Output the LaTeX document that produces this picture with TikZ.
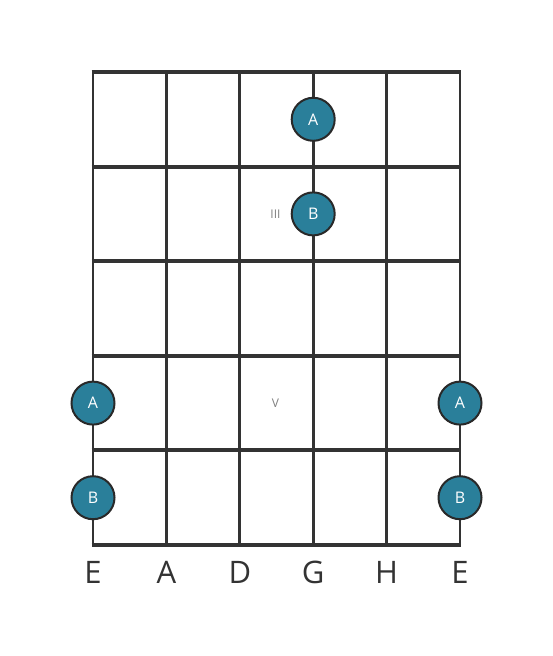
\documentclass[tikz,border=0pt]{standalone}
\usepackage{fontspec}
\setmainfont{Open Sans}
\definecolor{fretline}{HTML}{333333}
\definecolor{notefill}{HTML}{2A7F9A}
\tikzset{
  stringline/.style={fretline,line width=2.8pt},
  fretbar/.style={fretline,line width=4pt},
  note/.style={circle,draw=fretline!80!black,line width=2pt,fill=notefill,
    minimum size=43pt,inner sep=0pt,text=white,font=\fontsize{16}{16}\selectfont},
  stringname/.style={text=fretline,font=\fontsize{31}{31}\selectfont},
  fretmark/.style={text=gray,font=\fontsize{12}{12}\selectfont}
}
\begin{document}
\begin{tikzpicture}[x=1pt,y=-1pt]
    \useasboundingbox (0,0) rectangle (553,656);
    % strings
    \foreach \name [count=\i] in {E,A,D,G,H,E} {
      \coordinate (t\i) at ({93+73.4*(\i-1)},72);
      \coordinate (b\i) at ({93+73.4*(\i-1)},545);
      \draw[stringline] (t\i) -- (b\i);
      \node[stringname] (lab\i) at ({93+73.4*(\i-1)},572) {\name};
    }
    % frets
    \foreach \j in {0,...,5} {
      \coordinate (fl\j) at (91.6,{72+94.6*\j});
      \coordinate (fr\j) at (461.4,{72+94.6*\j});
      \draw[fretbar] (fl\j) -- (fr\j);
    }
    \node[fretmark] (mark3) at (275.5,214) {III};
    \node[fretmark] (mark5) at (275.5,403) {V};
    % notes
    \node[note] (n1) at (313.2,119.3) {A};
    \node[note] (n2) at (313.2,213.9) {B};
    \node[note] (n3) at (93,403.1) {A};
    \node[note] (n4) at (460,403.1) {A};
    \node[note] (n5) at (93,497.7) {B};
    \node[note] (n6) at (460,497.7) {B};
  \end{tikzpicture}
\end{document}
